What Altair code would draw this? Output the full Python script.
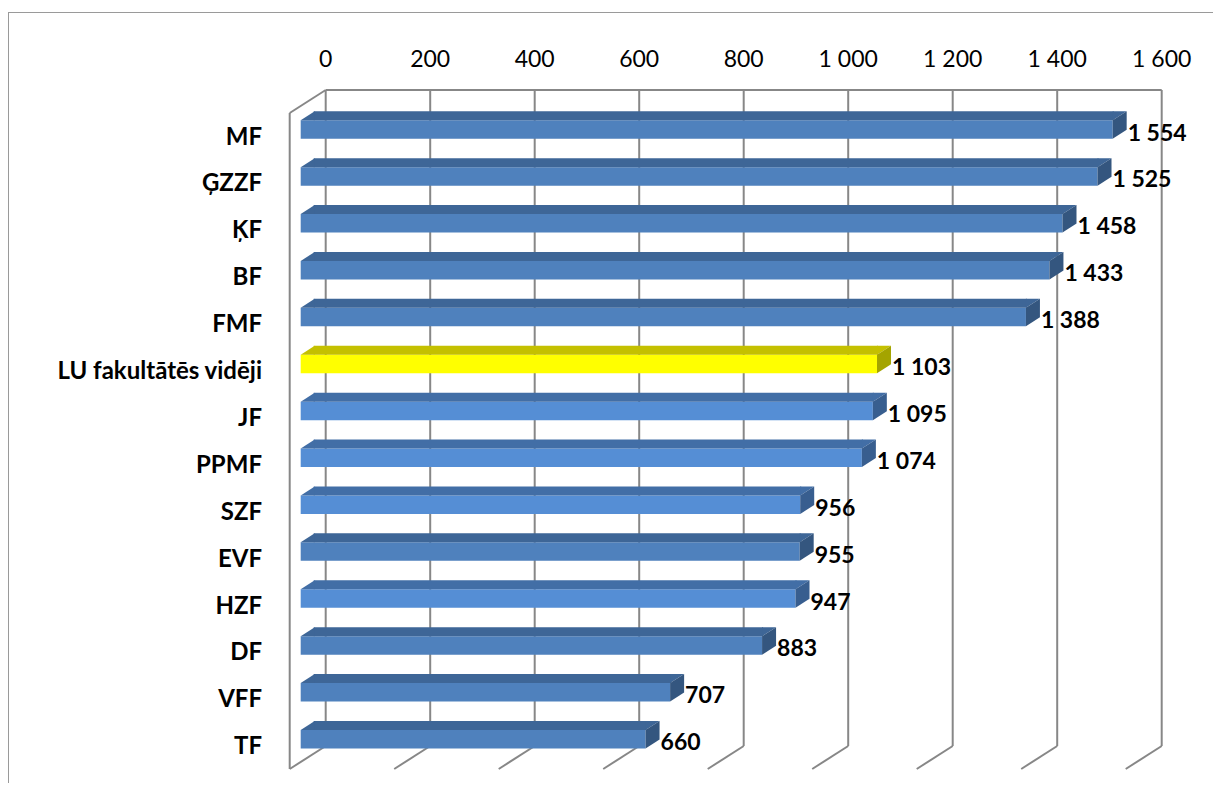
import altair as alt
import pandas as pd

# ---- data ----
categories = ["MF", "ĢZZF", "ĶF", "BF", "FMF", "LU fakultātēs vidēji", "JF",
              "PPMF", "SZF", "EVF", "HZF", "DF", "VFF", "TF"]
values = [1554, 1525, 1458, 1433, 1388, 1103, 1095, 1074, 956, 955, 947, 883, 707, 660]
groups = ["A", "A", "A", "A", "A", "avg", "B", "B", "B", "A", "B", "A", "A", "A"]
ticks = [0, 200, 400, 600, 800, 1000, 1200, 1400, 1600]

# ---- layout (pixels) ----
W, H = 1205, 775
X0, K = 317.7, 0.5225      # pixel of value 0 on back wall, px per unit
Y0, STEP = 121.5, 46.9     # pixel of first bar centre, spacing
WALL_TOP, WALL_BOT = 82, 738
DX, DY = -36, 23           # floor depth
FONT = "Lato"

xs = alt.Scale(domain=[-X0 / K, (W - X0) / K], nice=False, zero=False)
ys = alt.Scale(domain=[-Y0 / STEP, (H - Y0) / STEP], nice=False, zero=False, reverse=True)

bars = pd.DataFrame({
    "cat": categories,
    "val": values,
    "grp": groups,
    "idx": list(range(len(categories))),
})
tk = pd.DataFrame({"t": ticks})
one = pd.DataFrame({"t": [0], "hi": [ticks[-1]]})

gdom = ["A", "B", "avg"]
front_c = alt.Color("grp:N", scale=alt.Scale(domain=gdom, range=["#4F81BD", "#558ED5", "#FFFF00"]), legend=None)
top_c = alt.Color("grp:N", scale=alt.Scale(domain=gdom, range=["#3E6697", "#426EA6", "#C4C000"]), legend=None)
side_c = alt.Color("grp:N", scale=alt.Scale(domain=gdom, range=["#34567F", "#385E8F", "#A4A400"]), legend=None)

GRID = "#878787"
GW = 2

frame_top = alt.Chart(one).mark_rule(color="#9A9A9A", strokeWidth=1).encode(
    x=alt.value(0), x2=alt.value(W), y=alt.value(4.5))
frame_left = alt.Chart(one).mark_rule(color="#9A9A9A", strokeWidth=1).encode(
    x=alt.value(0.5), y=alt.value(4), y2=alt.value(H))

grid = alt.Chart(tk).mark_rule(color=GRID, strokeWidth=GW).encode(
    x=alt.X("t:Q", scale=xs, axis=None), y=alt.value(WALL_TOP), y2=alt.value(WALL_BOT))
wall_top = alt.Chart(one).mark_rule(color=GRID, strokeWidth=GW).encode(
    x=alt.X("t:Q", scale=xs, axis=None), x2="hi:Q", y=alt.value(WALL_TOP))
floor = alt.Chart(tk).mark_rule(color=GRID, strokeWidth=GW, x2Offset=DX).encode(
    x=alt.X("t:Q", scale=xs, axis=None), x2="t:Q", y=alt.value(WALL_BOT), y2=alt.value(WALL_BOT + DY))
side_diag = alt.Chart(one).mark_rule(color=GRID, strokeWidth=GW, x2Offset=DX).encode(
    x=alt.X("t:Q", scale=xs, axis=None), x2="t:Q", y=alt.value(WALL_TOP), y2=alt.value(WALL_TOP + DY))
side_vert = alt.Chart(one).mark_rule(color=GRID, strokeWidth=GW, xOffset=DX).encode(
    x=alt.X("t:Q", scale=xs, axis=None), y=alt.value(WALL_TOP + DY), y2=alt.value(WALL_BOT + DY))

tick_lbl = alt.Chart(tk).transform_calculate(
    lbl="replace(format(datum.t, ','), ',', ' ')"
).mark_text(font=FONT, fontSize=23, color="#000000", baseline="middle", align="center").encode(
    x=alt.X("t:Q", scale=xs, axis=None), y=alt.value(52), text="lbl:N")

base = alt.Chart(bars).transform_calculate(zero="0")
X = alt.X("zero:Q", scale=xs, axis=None)
XV = alt.X("val:Q", scale=xs, axis=None)
Y = alt.Y("idx:Q", scale=ys, axis=None)

FH = 9.25   # half front height
DEPX, DEPY = 14, 9

front = base.mark_rect(xOffset=-25, x2Offset=-25, yOffset=-FH, y2Offset=FH).encode(
    x=X, x2="val:Q", y=Y, y2="idx:Q", color=front_c)
top = base.mark_rect(xOffset=-25 + DEPX - 1, x2Offset=-25 + 1, yOffset=-FH - DEPY, y2Offset=-FH).encode(
    x=X, x2="val:Q", y=Y, y2="idx:Q", color=top_c)
left_tri = base.mark_point(shape=f"M0,0L{DEPX},-{DEPY}L{DEPX},0Z", size=4, filled=True, opacity=1,
                           strokeWidth=0, xOffset=-25, yOffset=-FH).encode(x=X, y=Y, color=top_c)
right_tri = base.mark_point(shape=f"M0,0L0,-{DEPY}L{DEPX},-{DEPY}Z", size=4, filled=True, opacity=1,
                            strokeWidth=0, xOffset=-25, yOffset=-FH).encode(x=XV, y=Y, color=top_c)
right_face = base.mark_point(shape=f"M0,0L{DEPX},-{DEPY}L{DEPX},{2*FH - DEPY}L0,{2*FH}Z", size=4,
                             filled=True, opacity=1, strokeWidth=0, xOffset=-25, yOffset=-FH).encode(
    x=XV, y=Y, color=side_c)

val_lbl = base.transform_calculate(
    lbl="replace(format(datum.val, ','), ',', ' ')"
).mark_text(font=FONT, fontSize=23, fontWeight="bold", color="#000000", align="left",
            baseline="middle", xOffset=-10, yOffset=4).encode(x=XV, y=Y, text="lbl:N")

cat_lbl = base.mark_text(font=FONT, fontSize=24, fontWeight="bold", color="#000000", align="right",
                         baseline="middle", yOffset=8).encode(x=alt.value(254), y=Y, text="cat:N")

chart = alt.layer(
    frame_top, frame_left, grid, wall_top, floor, side_diag, side_vert, tick_lbl,
    front, top, left_tri, right_tri, right_face, val_lbl, cat_lbl
).resolve_scale(color="independent").properties(
    width=W, height=H, padding=0, autosize="none", background="#FFFFFF"
).configure_view(stroke=None)

chart.save("out.html", embed_options={"renderer": "svg", "actions": False})
